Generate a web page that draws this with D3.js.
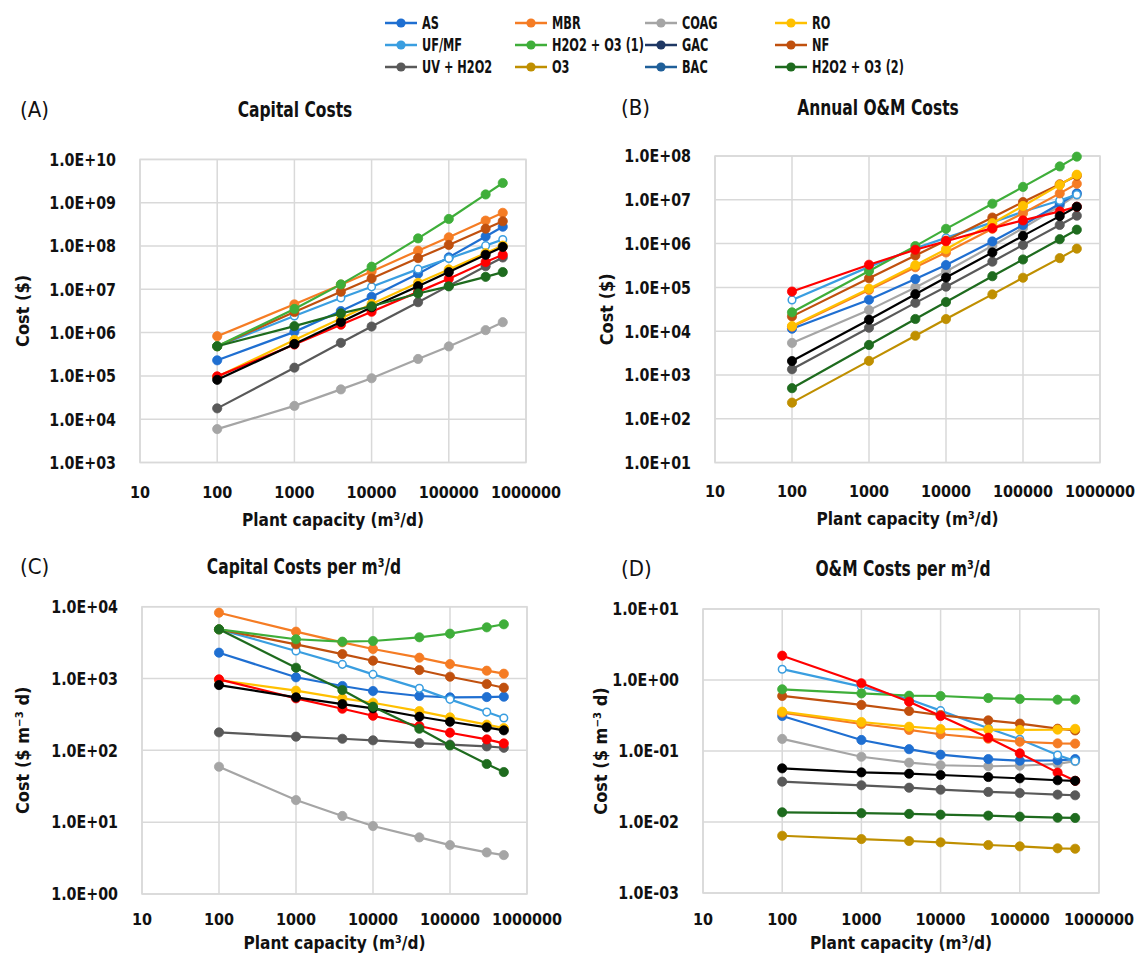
<!DOCTYPE html>
<html>
<head>
<meta charset="utf-8">
<script src="https://cdn.jsdelivr.net/npm/d3@7/dist/d3.min.js"></script>
<style>
  html, body { margin: 0; padding: 0; background: #fff; }
  svg { display: block; }
</style>
</head>
<body>
<svg id="chart" width="1141" height="955"></svg>
<script>
// ---------------- DATA ----------------
const capacity = [100, 1000, 4000, 10000, 40000, 100000, 300000, 500000];
const xTicks = [10, 100, 1000, 10000, 100000, 1000000];

const seriesNames = ["AS", "MBR", "COAG", "RO", "UF/MF", "H2O2 + O3 (1)", "GAC", "NF", "UV + H2O2", "O3", "BAC", "H2O2 + O3 (2)"];
const legendColors = ["#1f6fd1", "#f57c24", "#a5a5a5", "#ffc000", "#3a9ee0", "#3fae3a", "#1f3864", "#c0500e", "#595959", "#bf8f00", "#1f5f99", "#1e6b1e"];
const plotColors   = ["#1f6fd1", "#f57c24", "#a5a5a5", "#ffc000", "#3a9ee0", "#3fae3a", "#000000", "#c0500e", "#595959", "#bf8f00", "#ff0000", "#1e6b1e"];
const hollowMarker = [false, false, false, false, true, false, false, false, false, false, false, false];
// drawing order (indices into seriesNames)
const drawOrder = [2, 9, 8, 0, 4, 1, 7, 3, 5, 10, 6, 11];

// (A) Capital costs ($)
const capitalCost = [
  [2.29e5, 1.04e6, 3.15e6, 6.7e6, 2.28e7, 5.47e7, 1.66e8, 2.79e8],   // AS
  [8.25e5, 4.49e6, 1.28e7, 2.58e7, 7.8e7, 1.59e8, 3.86e8, 5.84e8],   // MBR
  [5.91e3, 2.03e4, 4.88e4, 8.83e4, 2.46e5, 4.8e5, 1.14e6, 1.74e6],   // COAG
  [9.53e4, 6.77e5, 2.12e6, 4.6e6, 1.41e7, 2.88e7, 6.84e7, 1.02e8],   // RO
  [4.84e5, 2.42e6, 6.3e6, 1.14e7, 2.92e7, 5.13e7, 1.02e8, 1.41e8],   // UF/MF
  [4.84e5, 3.52e6, 1.3e7, 3.33e7, 1.5e8, 4.21e8, 1.55e9, 2.85e9],    // H2O2 + O3 (1)
  [8.11e4, 5.47e5, 1.76e6, 3.85e6, 1.18e7, 2.5e7, 6.27e7, 9.5e7],    // GAC (black)
  [4.84e5, 2.99e6, 8.76e6, 1.77e7, 5.25e7, 1.06e8, 2.51e8, 3.73e8],  // NF
  [1.78e4, 1.55e5, 5.8e5, 1.38e6, 5.04e6, 1.2e7, 3.41e7, 5.43e7],    // UV + H2O2
  null,                                                              // O3
  [9.75e4, 5.3e5, 1.52e6, 3.03e6, 8.72e6, 1.76e7, 4.26e7, 6.25e7],   // BAC (red)
  [4.84e5, 1.41e6, 2.77e6, 4.05e6, 8.0e6, 1.17e7, 1.94e7, 2.5e7]     // H2O2 + O3 (2)
];

// (B) Annual O&M costs ($)
const annualOM = [
  [1.14e4, 5.22e4, 1.55e5, 3.24e5, 1.12e6, 2.66e6, 8.1e6, 1.41e7],   // AS
  [1.27e4, 8.76e4, 2.89e5, 6.28e5, 2.18e6, 4.93e6, 1.4e7, 2.32e7],   // MBR
  [5.4e3, 3.03e4, 1.0e5, 2.3e5, 8.9e5, 2.26e6, 7.23e6, 1.31e7],      // COAG
  [1.31e4, 9.34e4, 3.21e5, 7.45e5, 2.92e6, 7.23e6, 2.19e7, 3.74e7],  // RO
  [5.18e4, 2.94e5, 7.81e5, 1.35e6, 3.05e6, 5.33e6, 9.64e6, 1.31e7],  // UF/MF
  [2.7e4, 2.37e5, 8.77e5, 2.17e6, 8.13e6, 1.97e7, 5.78e7, 9.67e7],   // H2O2 + O3 (1)
  [2.08e3, 1.83e4, 6.99e4, 1.68e5, 6.28e5, 1.5e6, 4.24e6, 6.94e6],   // GAC (black)
  [2.18e4, 1.62e5, 5.34e5, 1.17e6, 3.94e6, 8.87e6, 2.26e7, 3.56e7],  // NF
  [1.35e3, 1.2e4, 4.44e4, 1.04e5, 3.87e5, 9.34e5, 2.66e6, 4.34e6],   // UV + H2O2
  [234, 2.1e3, 7.88e3, 1.89e4, 6.92e4, 1.66e5, 4.66e5, 7.67e5],      // O3
  [8.03e4, 3.29e5, 7.23e5, 1.135e6, 2.25e6, 3.38e6, 5.43e6, 6.94e6], // BAC (red)
  [500, 4.85e3, 1.9e4, 4.64e4, 1.8e5, 4.34e5, 1.26e6, 2.08e6]        // H2O2 + O3 (2)
];

// (C) Capital costs per m3/d ($ m-3 d)
const capitalPerCap = [
  [2290, 1040, 787, 670, 571, 547, 552, 558],      // AS
  [8250, 4490, 3190, 2580, 1950, 1590, 1285, 1167],// MBR
  [59.1, 20.3, 12.2, 8.83, 6.14, 4.8, 3.79, 3.48], // COAG
  [953, 677, 530, 460, 352, 288, 228, 204],        // RO
  [4840, 2420, 1575, 1143, 730, 513, 341, 282],    // UF/MF
  [4840, 3520, 3260, 3330, 3750, 4210, 5160, 5690],// H2O2 + O3 (1)
  [811, 547, 441, 385, 294, 250, 209, 190],        // GAC (black)
  [4840, 2990, 2190, 1770, 1313, 1059, 838, 745],  // NF
  [178, 155, 145, 138, 126, 120, 113.6, 108.6],    // UV + H2O2
  null,                                            // O3
  [975, 530, 380, 303, 218, 176, 142, 125],        // BAC (red)
  [4840, 1413, 692, 405, 200, 117, 64.6, 49.9]     // H2O2 + O3 (2)
];

// (D) O&M costs per m3/d ($ m-3 d)
const omPerCap = [
  [0.311, 0.143, 0.106, 0.0887, 0.077, 0.073, 0.074, 0.077],        // AS
  [0.347, 0.24, 0.198, 0.172, 0.149, 0.135, 0.128, 0.127],          // MBR
  [0.148, 0.083, 0.0685, 0.063, 0.061, 0.062, 0.066, 0.072],        // COAG
  [0.358, 0.256, 0.22, 0.204, 0.2, 0.198, 0.2, 0.205],              // RO
  [1.42, 0.805, 0.535, 0.37, 0.209, 0.146, 0.088, 0.072],           // UF/MF
  [0.74, 0.648, 0.601, 0.595, 0.557, 0.54, 0.528, 0.53],            // H2O2 + O3 (1)
  [0.057, 0.05, 0.0479, 0.0459, 0.043, 0.0412, 0.0387, 0.038],      // GAC (black)
  [0.596, 0.445, 0.366, 0.321, 0.27, 0.243, 0.206, 0.195],          // NF
  [0.037, 0.0329, 0.0304, 0.0285, 0.0265, 0.0256, 0.0243, 0.0238],  // UV + H2O2
  [0.0064, 0.00575, 0.0054, 0.00517, 0.00474, 0.00454, 0.00426, 0.0042], // O3
  [2.2, 0.9, 0.495, 0.311, 0.154, 0.0927, 0.0496, 0.038],           // BAC (red)
  [0.0137, 0.0133, 0.013, 0.0127, 0.0123, 0.0119, 0.0115, 0.0114]   // H2O2 + O3 (2)
];

const yTicksA = [1e3, 1e4, 1e5, 1e6, 1e7, 1e8, 1e9, 1e10];
const yTicksB = [1e1, 1e2, 1e3, 1e4, 1e5, 1e6, 1e7, 1e8];
const yTicksC = [1e0, 1e1, 1e2, 1e3, 1e4];
const yTicksD = [1e-3, 1e-2, 1e-1, 1e0, 1e1];

// ---------------- DRAWING ----------------
const FONT = "'DejaVu Sans Condensed','Liberation Sans',sans-serif";
const GRID = "#d9d9d9";
const svg = d3.select("#chart");

function sci(v) {
  const e = Math.round(Math.log10(v));
  return "1.0E" + (e < 0 ? "-" : "+") + String(Math.abs(e)).padStart(2, "0");
}
// horizontally condense text (Calibri-like proportions)
function squeeze(sel, f) {
  sel.each(function () {
    const L = this.getComputedTextLength();
    d3.select(this).attr("textLength", L * f).attr("lengthAdjust", "spacingAndGlyphs");
  });
  return sel;
}

function drawPanel(p) {
  const x = d3.scaleLog().domain([10, 1e6]).range([p.x0, p.x1]);
  const y = d3.scaleLog().domain([p.yTicks[0], p.yTicks[p.yTicks.length - 1]]).range([p.y1, p.y0]);
  const g = svg.append("g");

  // grid
  g.selectAll("line.h").data(p.yTicks).enter().append("line")
    .attr("x1", p.x0).attr("x2", p.x1).attr("y1", d => y(d)).attr("y2", d => y(d))
    .attr("stroke", GRID).attr("stroke-width", 1.5);
  g.selectAll("line.v").data(xTicks).enter().append("line")
    .attr("y1", p.y0).attr("y2", p.y1).attr("x1", d => x(d)).attr("x2", d => x(d))
    .attr("stroke", GRID).attr("stroke-width", 1.5);
  g.append("rect").attr("x", p.x0).attr("y", p.y0).attr("width", p.x1 - p.x0).attr("height", p.y1 - p.y0)
    .attr("fill", "none").attr("stroke", GRID).attr("stroke-width", 1.5);

  // y tick labels
  squeeze(g.selectAll("text.yt").data(p.yTicks).enter().append("text")
    .attr("x", p.x0 - 24).attr("y", d => y(d)).attr("dy", "0.35em")
    .attr("text-anchor", "end").attr("font-family", FONT).attr("font-weight", "bold")
    .attr("font-size", 18).attr("fill", "#111").text(sci), 0.88);
  // x tick labels
  g.selectAll("text.xt").data(xTicks).enter().append("text")
    .attr("x", d => x(d)).attr("y", p.y1 + p.xtDy)
    .attr("text-anchor", "middle").attr("font-family", FONT).attr("font-weight", "bold")
    .attr("font-size", 16).attr("fill", "#111").text(d => String(d));

  // x title
  squeeze(g.append("text").attr("x", (p.x0 + p.x1) / 2).attr("y", p.y1 + p.xtitleDy)
    .attr("text-anchor", "middle").attr("font-family", FONT).attr("font-weight", "bold")
    .attr("font-size", 18).attr("fill", "#111").text("Plant capacity (m³/d)"), 0.95);
  // y title
  g.append("text").attr("transform", `translate(${p.ytX},${(p.y0 + p.y1) / 2}) rotate(-90)`)
    .attr("text-anchor", "middle").attr("font-family", FONT).attr("font-weight", "bold")
    .attr("font-size", 18).attr("fill", "#111").text(p.yTitle);

  // panel letter and title
  g.append("text").attr("x", p.letterX).attr("y", p.titleY)
    .attr("font-family", FONT).attr("font-size", 22).attr("fill", "#111").text(p.letter);
  squeeze(g.append("text").attr("x", p.titleX).attr("y", p.titleY)
    .attr("text-anchor", "middle").attr("font-family", FONT).attr("font-weight", "bold")
    .attr("font-size", 21).attr("fill", "#111").text(p.title), 0.82);

  // series
  const line = d3.line().x(d => x(d[0])).y(d => y(d[1]));
  drawOrder.forEach(i => {
    const vals = p.data[i];
    if (!vals) return;
    const pts = capacity.map((c, k) => [c, vals[k]]);
    g.append("path").attr("d", line(pts)).attr("fill", "none")
      .attr("stroke", plotColors[i]).attr("stroke-width", 2.2);
    g.selectAll(null).data(pts).enter().append("circle")
      .attr("cx", d => x(d[0])).attr("cy", d => y(d[1])).attr("r", hollowMarker[i] ? 3.8 : 4.6)
      .attr("fill", hollowMarker[i] ? "#fff" : plotColors[i])
      .attr("stroke", plotColors[i]).attr("stroke-width", hollowMarker[i] ? 1.5 : 0.8);
  });
}

drawPanel({ x0: 140, x1: 526, y0: 159.4, y1: 462.5, yTicks: yTicksA, data: capitalCost, xtDy: 35, xtitleDy: 63,
  yTitle: "Cost ($)", ytX: 29, letter: "(A)", letterX: 20, title: "Capital Costs", titleX: 295, titleY: 117 });
drawPanel({ x0: 715, x1: 1100, y0: 156, y1: 462.6, yTicks: yTicksB, data: annualOM, xtDy: 34, xtitleDy: 62,
  yTitle: "Cost ($)", ytX: 613, letter: "(B)", letterX: 621, title: "Annual O&M Costs", titleX: 878, titleY: 115 });
drawPanel({ x0: 142, x1: 527, y0: 606.7, y1: 894, yTicks: yTicksC, data: capitalPerCap, xtDy: 31, xtitleDy: 55,
  yTitle: "Cost ($ m⁻³ d)", ytX: 29, letter: "(C)", letterX: 20, title: "Capital Costs per m³/d", titleX: 304, titleY: 574 });
drawPanel({ x0: 703, x1: 1099, y0: 609, y1: 893, yTicks: yTicksD, data: omPerCap, xtDy: 32, xtitleDy: 56,
  yTitle: "Cost ($ m⁻³ d)", ytX: 607, letter: "(D)", letterX: 621, title: "O&M Costs per m³/d", titleX: 903, titleY: 576 });

// legend
const legCols = [385, 515, 645, 775];
const legRows = [23, 45, 67];
seriesNames.forEach((name, i) => {
  const cx = legCols[i % 4], cy = legRows[Math.floor(i / 4)];
  const lg = svg.append("g");
  lg.append("line").attr("x1", cx).attr("x2", cx + 32).attr("y1", cy).attr("y2", cy)
    .attr("stroke", legendColors[i]).attr("stroke-width", 2.5);
  lg.append("circle").attr("cx", cx + 16).attr("cy", cy).attr("r", 4.6).attr("fill", legendColors[i]);
  squeeze(lg.append("text").attr("x", cx + 37).attr("y", cy).attr("dy", "0.35em")
    .attr("font-family", FONT).attr("font-weight", "bold").attr("font-size", 17)
    .attr("fill", "#111").text(name), 0.74);
});
</script>
</body>
</html>
